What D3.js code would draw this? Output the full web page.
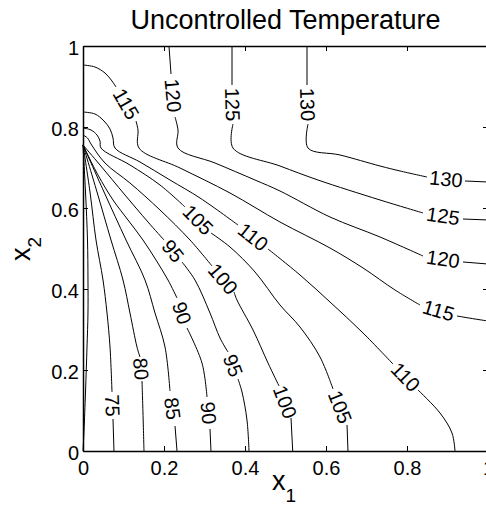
<!DOCTYPE html>
<html>
<head>
<meta charset="utf-8">
<script src="https://cdn.jsdelivr.net/npm/d3@7"></script>
<style>
  body { margin: 0; background: #fff; }
  svg { display: block; font-family: "Liberation Sans", Arial, Helvetica, sans-serif; }
</style>
</head>
<body>
<div id="chart"></div>
<script>
// contour levels, one per line
var levels = [70, 75, 80, 85, 90, 95, 100, 105, 110, 115, 120, 125, 130];

// axis ticks
var tickValues = [0, 0.2, 0.4, 0.6, 0.8, 1];
var tickLabels = ["0", "0.2", "0.4", "0.6", "0.8", "1"];

// each contour is split into pieces; a label sits in every gap between two pieces
var c70 = [
  [[0, 0.7556], [0.0062, 0.6395], [0.0111, 0.5210], [0.0123, 0.4222], [0.0123, 0.3407], [0.0099, 0.2568], [0.0062, 0.1457], [0.0025, 0.0500], [0, 0]]
];
var c75 = [
  [[0, 0.7556], [0.0173, 0.6395], [0.0321, 0.5210], [0.0494, 0.4222], [0.0593, 0.3407], [0.0667, 0.2568], [0.0716, 0.1457]],
  [[0.0741, 0.0790], [0.0765, 0]]
];
var c80 = [
  [[0, 0.7556], [0.0346, 0.6395], [0.0691, 0.5210], [0.0988, 0.4222], [0.1160, 0.3407], [0.1333, 0.2568], [0.1407, 0.2321]],
  [[0.1457, 0.1728], [0.1481, 0.0938], [0.1506, 0]]
];
var c85 = [
  [[0, 0.7556], [0.0519, 0.6395], [0.1062, 0.5210], [0.1531, 0.4222], [0.1778, 0.3407], [0.2025, 0.2568], [0.2148, 0.1481]],
  [[0.2272, 0.0617], [0.2321, 0]]
];
var c90 = [
  [[0, 0.7556], [0.0370, 0.6815], [0.0741, 0.6198], [0.1111, 0.5704], [0.1481, 0.5210], [0.1802, 0.4716], [0.2099, 0.4222], [0.2321, 0.3778]],
  [[0.2568, 0.3037], [0.2938, 0.2173], [0.3062, 0.1333]],
  [[0.3136, 0.0543], [0.3160, 0]]
];
var c95 = [
  [[0, 0.7556], [0.0420, 0.7062], [0.1037, 0.6321], [0.1605, 0.5654], [0.2000, 0.5210]],
  [[0.2444, 0.4667], [0.2765, 0.4222], [0.3136, 0.3407], [0.3383, 0.2790], [0.3580, 0.2444]],
  [[0.3827, 0.1778], [0.3926, 0.1457], [0.4049, 0.0765], [0.4099, 0]]
];
var c100 = [
  [[0, 0.7802], [0.0111, 0.7728], [0.0198, 0.7580], [0.0543, 0.7111], [0.1160, 0.6617], [0.1901, 0.5951], [0.2642, 0.5210], [0.3185, 0.4568]],
  [[0.3728, 0.3926], [0.3802, 0.3728], [0.4198, 0.2988], [0.4568, 0.2173], [0.4840, 0.1605]],
  [[0.5136, 0.0815], [0.5178, 0]]
];
var c105 = [
  [[0, 0.7975], [0.0198, 0.7926], [0.0346, 0.7802], [0.0420, 0.7654], [0.0444, 0.7481], [0.1160, 0.7062], [0.1901, 0.6568], [0.2519, 0.6025]],
  [[0.3160, 0.5383], [0.3630, 0.5037], [0.4247, 0.4420], [0.4864, 0.3605], [0.5358, 0.3062], [0.5852, 0.2321], [0.6173, 0.1531]],
  [[0.6519, 0.0642], [0.6543, 0]]
];
var c110 = [
  [[0, 0.8370], [0.0296, 0.8321], [0.0519, 0.8148], [0.0667, 0.7951], [0.0741, 0.7728], [0.0790, 0.7481], [0.1407, 0.7136], [0.2148, 0.6691], [0.2889, 0.6247], [0.3827, 0.5580]],
  [[0.4568, 0.4988], [0.5358, 0.4346], [0.6099, 0.3679], [0.6914, 0.2914], [0.7654, 0.2148]],
  [[0.8272, 0.1506], [0.8815, 0.0938], [0.9111, 0.0444], [0.9185, 0]]
];
var c115 = [
  [[0, 0.9531], [0.0296, 0.9481], [0.0543, 0.9333], [0.0716, 0.9136], [0.0815, 0.8988]],
  [[0.1309, 0.8148], [0.1358, 0.7926], [0.1383, 0.7481], [0.2395, 0.6988], [0.3630, 0.6370], [0.4864, 0.5654], [0.6099, 0.5012], [0.6914, 0.4519], [0.7704, 0.3975], [0.8321, 0.3605]],
  [[0.9235, 0.3333], [0.9679, 0.3259], [1.0, 0.3210]]
];
var c120 = [
  [[0.2123, 1.0], [0.2173, 0.9309]],
  [[0.2272, 0.8247], [0.2346, 0.7926], [0.2346, 0.7481], [0.3259, 0.7111], [0.4247, 0.6691], [0.4864, 0.6420], [0.6099, 0.5778], [0.7333, 0.5284], [0.8395, 0.4815]],
  [[0.9383, 0.4667], [1.0, 0.4617]]
];
var c125 = [
  [[0.3679, 1.0], [0.3679, 0.9037]],
  [[0.3704, 0.8074], [0.3704, 0.7481], [0.4864, 0.7037], [0.5802, 0.6691], [0.7333, 0.6198], [0.8395, 0.5877]],
  [[0.9383, 0.5728], [1.0, 0.5704]]
];
var c130 = [
  [[0.5531, 1.0], [0.5531, 0.9037]],
  [[0.5556, 0.8074], [0.5556, 0.7481], [0.6346, 0.7309], [0.7333, 0.7037], [0.7827, 0.6914], [0.8494, 0.6765]],
  [[0.9432, 0.6667], [1.0, 0.6642]]
];
var contourLines = [c70, c75, c80, c85, c90, c95, c100, c105, c110, c115, c120, c125, c130];

var titleText = "Uncontrolled Temperature";

// layout
var WIDTH = 486, HEIGHT = 510;
var LEFT = 83, RIGHT = 488, TOP = 46, BOTTOM = 451;

var svg = d3.select("#chart").append("svg")
    .attr("width", WIDTH)
    .attr("height", HEIGHT);

var x = d3.scaleLinear().domain([0, 1]).range([LEFT, RIGHT]);
var y = d3.scaleLinear().domain([0, 1]).range([BOTTOM, TOP]);

var line = d3.line()
    .x(function (d) { return x(d[0]); })
    .y(function (d) { return y(d[1]); })
    .curve(d3.curveCatmullRom.alpha(0.5));

// contour lines
var lineGroup = svg.append("g");
contourLines.forEach(function (pieces, i) {
    pieces.forEach(function (piece) {
        lineGroup.append("path")
            .attr("d", line(piece))
            .attr("fill", "none")
            .attr("stroke", "black")
            .attr("stroke-width", 1);
    });
    // inline labels in the gaps
    for (var k = 0; k + 1 < pieces.length; ++k) {
        var a = pieces[k][pieces[k].length - 1];
        var b = pieces[k + 1][0];
        var ax = x(a[0]), ay = y(a[1]), bx = x(b[0]), by = y(b[1]);
        var angle = Math.atan2(by - ay, bx - ax) * 180 / Math.PI;
        if (angle > 90) angle -= 180;
        if (angle < -90) angle += 180;
        lineGroup.append("text")
            .attr("transform", "translate(" + (ax + bx) / 2 + "," + (ay + by) / 2 + ") rotate(" + angle + ")")
            .attr("text-anchor", "middle")
            .attr("dy", "0.35em")
            .attr("font-size", "20px")
            .text(levels[i]);
    }
});

// axes (ticks inside the box, MATLAB style)
function styleAxis(g) {
    g.selectAll("path.domain").attr("stroke", "black").attr("stroke-width", 1.5);
    g.selectAll(".tick line").attr("stroke", "black").attr("stroke-width", 1);
    g.selectAll("text").attr("font-size", "20px").attr("fill", "black")
        .attr("font-family", "\"Liberation Sans\", Arial, sans-serif");
}
svg.append("g")
    .attr("transform", "translate(0," + BOTTOM + ")")
    .call(d3.axisBottom(x).tickValues(tickValues)
        .tickFormat(function (d, i) { return tickLabels[i]; })
        .tickSizeInner(-5).tickSizeOuter(0).tickPadding(10))
    .call(styleAxis);
svg.append("g")
    .attr("transform", "translate(0," + TOP + ")")
    .call(d3.axisTop(x).tickValues(tickValues).tickFormat("")
        .tickSizeInner(-5).tickSizeOuter(0))
    .call(styleAxis);
svg.append("g")
    .attr("transform", "translate(" + LEFT + ",0)")
    .call(d3.axisLeft(y).tickValues(tickValues)
        .tickFormat(function (d, i) { return tickLabels[i]; })
        .tickSizeInner(-5).tickSizeOuter(0).tickPadding(4))
    .call(styleAxis)
    .selectAll("text").attr("dy", "0.42em");
svg.append("g")
    .attr("transform", "translate(" + RIGHT + ",0)")
    .call(d3.axisRight(y).tickValues(tickValues).tickFormat("")
        .tickSizeInner(-5).tickSizeOuter(0))
    .call(styleAxis);

// title
svg.append("text")
    .attr("x", (LEFT + RIGHT) / 2)
    .attr("y", 29)
    .attr("text-anchor", "middle")
    .attr("font-size", "27px")
    .text(titleText);

// x label: x_1
var xl = svg.append("text")
    .attr("x", 284)
    .attr("y", 490)
    .attr("text-anchor", "middle")
    .attr("font-size", "27px");
xl.append("tspan").text("x");
xl.append("tspan").attr("font-size", "19px").attr("dy", 12).text("1");

// y label: x_2
var yl = svg.append("text")
    .attr("transform", "translate(30,249) rotate(-90)")
    .attr("text-anchor", "middle")
    .attr("font-size", "27px");
yl.append("tspan").text("x");
yl.append("tspan").attr("font-size", "19px").attr("dy", 11).text("2");
</script>
</body>
</html>
